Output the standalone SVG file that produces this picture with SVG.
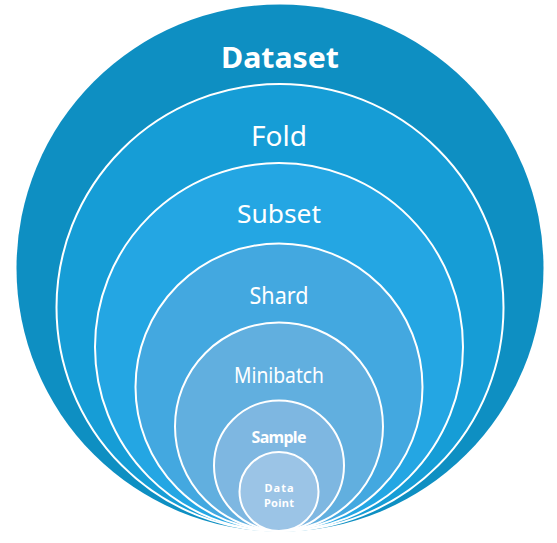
<svg xmlns="http://www.w3.org/2000/svg" width="557" height="543" viewBox="0 0 557 543">
<style>
.ring{stroke:#ffffff;stroke-width:2}
text{font-family:"Noto Sans","Open Sans","Liberation Sans",sans-serif;fill:#ffffff;text-anchor:middle}
.b{font-weight:bold}
</style>
<rect width="557" height="543" fill="#ffffff"/>
<g id="dataset"><circle cx="280" cy="268" r="263.5" fill="#0E8FC2"/><text x="280" y="68" font-size="29" class="b" textLength="118" lengthAdjust="spacingAndGlyphs">Dataset</text></g>
<g id="fold"><circle class="ring" cx="280" cy="307.5" r="223.5" fill="#169DD6"/><text x="279" y="146" font-size="28" textLength="56" lengthAdjust="spacingAndGlyphs">Fold</text></g>
<g id="subset"><circle class="ring" cx="279" cy="347" r="184" fill="#24A6E3"/><text x="279" y="223" font-size="26" textLength="84" lengthAdjust="spacingAndGlyphs">Subset</text></g>
<g id="shard"><circle class="ring" cx="279" cy="387" r="143.5" fill="#43A8E0"/><text x="279" y="304" font-size="23" textLength="59" lengthAdjust="spacingAndGlyphs">Shard</text></g>
<g id="minibatch"><circle class="ring" cx="279" cy="426.5" r="104" fill="#61AFDF"/><text x="279" y="383" font-size="22" textLength="90" lengthAdjust="spacingAndGlyphs">Minibatch</text></g>
<g id="sample"><circle class="ring" cx="279" cy="465.5" r="65" fill="#7EB7E1"/><text x="279" y="443" font-size="16" class="b" textLength="55" lengthAdjust="spacing">Sample</text></g>
<g id="datapoint"><circle class="ring" cx="279" cy="491.5" r="39.5" fill="#9BC4E6"/><text x="279" y="491.5" font-size="11" class="b" textLength="29" lengthAdjust="spacing">Data</text><text x="279" y="506.5" font-size="11" class="b" textLength="30" lengthAdjust="spacing">Point</text></g>
<g id="connectors"/>
</svg>
